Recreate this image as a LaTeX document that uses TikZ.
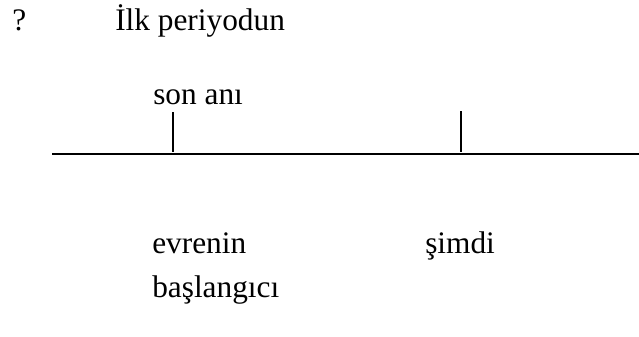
\documentclass[tikz,border=0pt]{standalone}
\usepackage{fontspec}
\setmainfont{Liberation Serif}
\newfontfamily\tmsfont{Liberation Serif}
\usepackage{tikz}
\tikzset{
  lbl/.style={anchor=base west,inner sep=0pt,font=\tmsfont\fontsize{23.5}{28}\selectfont},
  axis/.style={line width=1.5pt},
  tck/.style={line width=1.5pt}
}
\begin{document}
\begin{tikzpicture}[x=0.75pt,y=-0.75pt]
\useasboundingbox (0,0) rectangle (639,336);
\node[lbl] (q) at (12,30) {?};
\node[lbl] (ilk) at (115,30) {İlk periyodun};
\node[lbl] (son) at (153,104) {son anı};
\coordinate (a0) at (52,154); \coordinate (a1) at (639,154);
\draw[axis] (a0) -- (a1);
\coordinate (t1a) at (173,112); \coordinate (t1b) at (173,152);
\draw[tck] (t1a) -- (t1b);
\coordinate (t2a) at (461,111); \coordinate (t2b) at (461,152);
\draw[tck] (t2a) -- (t2b);
\node[lbl] (evr) at (152,253) {evrenin};
\node[lbl] (sim) at (425,253) {şimdi};
\node[lbl] (bas) at (152,297) {başlangıcı};
\end{tikzpicture}
\end{document}
